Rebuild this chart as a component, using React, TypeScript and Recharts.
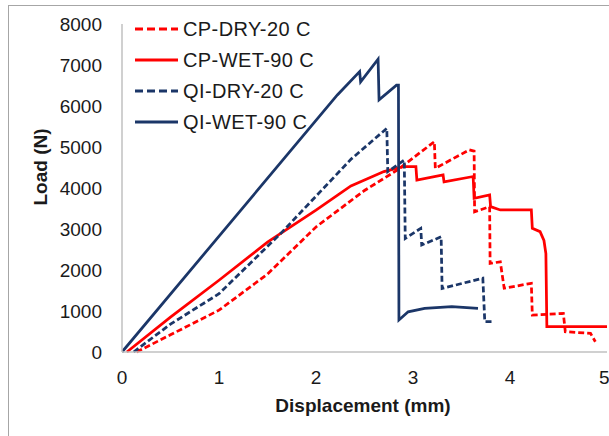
import React from 'react';
import { LineChart, Line, XAxis, YAxis } from 'recharts';

// [displacement (mm), load (N)]
const cpDry: number[][] = [
  [0.15, 0], [0.5, 420], [1.0, 1020], [1.5, 1900], [2.0, 3050], [2.5, 3940], [2.84, 4440],
  [3.22, 5130], [3.23, 4480], [3.58, 4930], [3.63, 4900], [3.635, 3420], [3.79, 3545],
  [3.795, 2160], [3.9, 2200], [3.94, 1555], [4.22, 1675], [4.23, 900], [4.55, 940],
  [4.57, 495], [4.83, 455], [4.88, 250],
];
const cpWet: number[][] = [
  [0.05, 0], [0.5, 850], [1.0, 1750], [1.5, 2680], [2.0, 3460], [2.36, 4050], [2.7, 4400],
  [2.9, 4520], [3.03, 4520], [3.04, 4195], [3.31, 4320], [3.32, 4150], [3.62, 4280],
  [3.63, 3750], [3.79, 3830], [3.8, 3545], [3.9, 3465], [4.22, 3465], [4.23, 3015],
  [4.31, 2935], [4.35, 2720], [4.37, 2400], [4.38, 617], [5.0, 617],
];
const qiDry: number[][] = [
  [0.12, 0], [0.5, 680], [1.0, 1420], [1.64, 2900], [2.36, 4700], [2.73, 5455], [2.74, 4400],
  [2.91, 4680], [2.92, 2770], [3.08, 3015], [3.09, 2610], [3.29, 2810], [3.3, 1550],
  [3.72, 1800], [3.74, 740], [3.81, 740],
];
const qiWet: number[][] = [
  [0, 0], [2.22, 6270], [2.45, 6840], [2.46, 6590], [2.64, 7140], [2.65, 6150], [2.83, 6510],
  [2.85, 6510], [2.855, 780], [2.95, 980], [3.12, 1065], [3.4, 1105], [3.67, 1065],
];

const xTicks = [0, 1, 2, 3, 4, 5];
const yTicks = [0, 1000, 2000, 3000, 4000, 5000, 6000, 7000, 8000];

const RED = '#ff0000';
const NAVY = '#1b3668';
const FONT = 'Arial, "Liberation Sans", sans-serif';

const toPts = (arr: number[][]) => arr.map(([x, y]) => ({ x, y }));

const series = [
  { name: 'CP-DRY-20 C', data: toPts(cpDry), color: RED, dash: '6 3' },
  { name: 'CP-WET-90 C', data: toPts(cpWet), color: RED, dash: undefined },
  { name: 'QI-DRY-20 C', data: toPts(qiDry), color: NAVY, dash: '6 3' },
  { name: 'QI-WET-90 C', data: toPts(qiWet), color: NAVY, dash: undefined },
];

const LegendBox = () => (
  <div style={{ position: 'absolute', left: 135, top: 13.5, fontFamily: FONT, fontSize: 20, letterSpacing: 0.4, color: '#1a1a1a' }}>
    {series.map((s) => (
      <div key={s.name} style={{ height: 31, display: 'flex', alignItems: 'center' }}>
        <svg width={48} height={10}>
          <line x1={0} y1={5} x2={43} y2={5} stroke={s.color} strokeWidth={3} strokeDasharray={s.dash ? '8 4' : undefined} />
        </svg>
        <span>{s.name}</span>
      </div>
    ))}
  </div>
);

const YLabel = () => (
  <text x={42} y={167} transform="rotate(-90 42 167)" textAnchor="middle" dominantBaseline="middle"
    fontFamily={FONT} fontSize={19} fontWeight="bold" fill="#1a1a1a">Load (N)</text>
);

const XLabel = () => (
  <text x={363} y={412} textAnchor="middle" fontFamily={FONT} fontSize={19} fontWeight="bold" fill="#1a1a1a">
    Displacement (mm)
  </text>
);

export default function App() {
  return (
    <div style={{ position: 'fixed', left: 0, top: 0, width: 609, height: 436, background: '#fff' }}>
      <div style={{ position: 'absolute', left: 8, top: 5, width: 610, height: 440, borderLeft: '1.5px solid #a6a6a6', borderTop: '1.5px solid #a6a6a6' }} />
      <LineChart width={609} height={436} margin={{ top: 24, right: 2, bottom: 0, left: 0 }} style={{ position: 'absolute', left: 0, top: 0 }}>
        <XAxis type="number" dataKey="x" domain={[0, 5]} ticks={xTicks} allowDataOverflow height={84}
          stroke="#c0c0c0" strokeWidth={1.5} tickLine={false} tickSize={0} tickMargin={19}
          tick={{ fontFamily: FONT, fontSize: 19, fill: '#1a1a1a' }} label={<XLabel />} />
        <YAxis type="number" domain={[0, 8000]} ticks={yTicks} width={122}
          stroke="#c0c0c0" strokeWidth={1.5} tickLine={false} tickSize={0} tickMargin={20}
          tick={{ fontFamily: FONT, fontSize: 19, fill: '#1a1a1a' }} label={<YLabel />} />
        {series.map((s) => (
          <Line key={s.name} name={s.name} data={s.data} dataKey="y" type="linear" stroke={s.color}
            strokeWidth={2.75} strokeDasharray={s.dash} dot={false} isAnimationActive={false} />
        ))}
      </LineChart>
      <LegendBox />
    </div>
  );
}
